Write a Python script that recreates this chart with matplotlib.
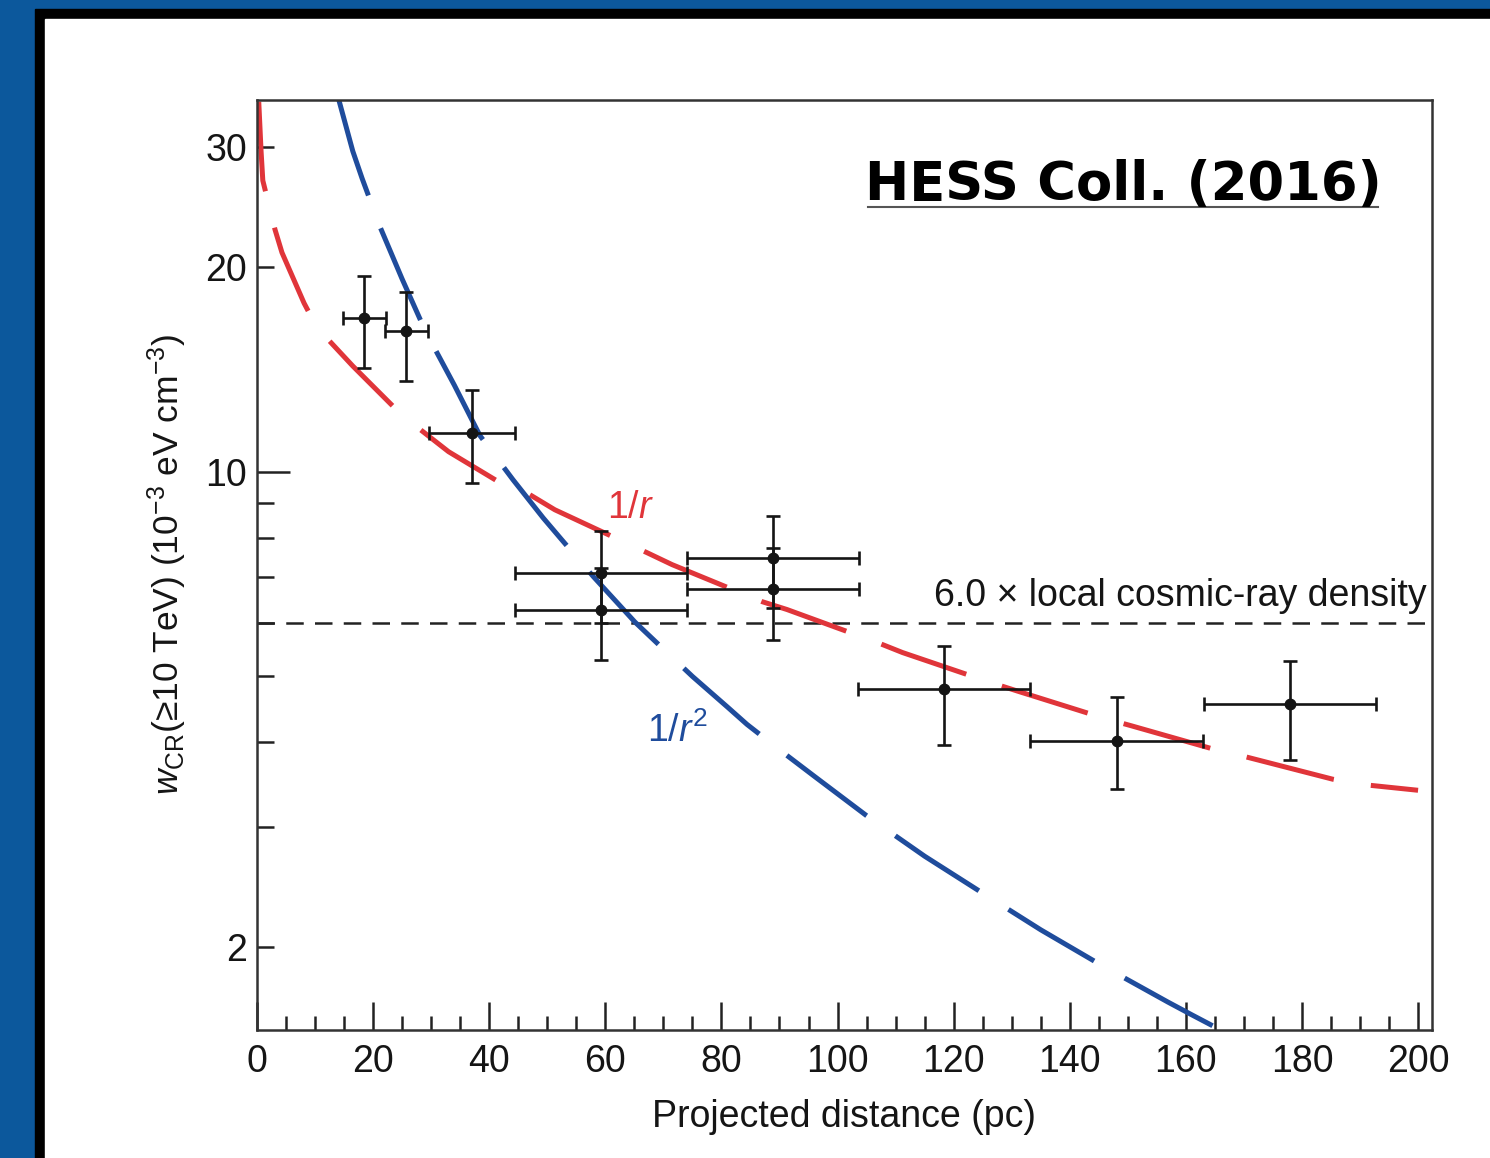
import matplotlib.pyplot as plt
import numpy as np
from matplotlib.patches import Rectangle

plt.rcParams['font.family'] = ['Liberation Sans', 'DejaVu Sans']
plt.rcParams['mathtext.fontset'] = 'custom'
plt.rcParams['mathtext.rm'] = 'Liberation Sans'
plt.rcParams['mathtext.it'] = 'Liberation Sans:italic'

# measured CR energy density in annuli around Sgr A*
dist = [18.4, 25.7, 37.0, 59.3, 59.3, 88.9, 88.9, 118.4, 148.1, 178.0]
dist_lo = [14.8, 22.0, 29.6, 44.4, 44.4, 74.1, 74.1, 103.6, 133.2, 163.1]
dist_hi = [22.2, 29.5, 44.4, 74.1, 74.1, 103.7, 103.7, 133.2, 163.0, 192.8]
w_cr = [16.8, 16.1, 11.4, 7.10, 6.27, 7.47, 6.73, 4.79, 4.02, 4.56]
w_lo = [14.2, 13.6, 9.63, 6.00, 5.29, 6.31, 5.66, 3.97, 3.41, 3.77]
w_hi = [19.4, 18.4, 13.2, 8.19, 7.22, 8.61, 7.73, 5.55, 4.66, 5.26]

# 1/r profile (projected)
r1_x = [0.3, 0.7, 1.0, 3.1, 4.3, 8.1, 10.3, 16.5, 25, 33, 41.9, 47, 51.3, 67.2,
        71.5, 87, 91.3, 106.8, 111.2, 126.3, 130.9, 145.9, 150.6, 165.6,
        170.2, 185.3, 190, 200]
r1_y = [35.0, 29.6, 26.8, 22.7, 21.0, 17.7, 16.3, 14.3, 12.1, 10.7, 9.63, 9.25,
        8.79, 7.60, 7.30, 6.44, 6.27, 5.61, 5.42, 4.90, 4.76, 4.34, 4.23, 3.89,
        3.81, 3.53, 3.47, 3.40]

# 1/r^2 profile (projected)
r2_x = [14.1, 16.5, 18.1, 21.2, 25, 29, 34, 38.4, 44.1, 49.3, 52.5, 58, 65.1,
        68.6, 75, 81, 84.4, 90, 96.1, 105, 115, 125, 135, 145, 156.9, 161, 166]
r2_y = [35.2, 29.6, 27.0, 22.9, 19.2, 16.1, 13.4, 11.3, 9.73, 8.55, 7.94, 7.0,
        6.01, 5.63, 5.0, 4.51, 4.25, 3.9, 3.56, 3.12, 2.72, 2.40, 2.12, 1.89,
        1.66, 1.59, 1.51]

local_level = 6.0

fig = plt.figure(figsize=(14.9, 11.58), dpi=100, facecolor='#0c589c')
fig.add_artist(Rectangle((35 / 1490, -0.1), 2, 1.1 - 9 / 1158,
                         transform=fig.transFigure, color='black', zorder=-2))
fig.add_artist(Rectangle((45 / 1490, -0.1), 2, 1.1 - 19 / 1158,
                         transform=fig.transFigure, color='white', zorder=-1))

ax = fig.add_axes([257 / 1490, 1 - 1030 / 1158, 1175 / 1490, 930 / 1158])
ax.set_yscale('log')
ax.set_xlim(0, 202.4)
ax.set_ylim(1.51, 35.2)

red = '#e0353a'
blue = '#1f4c9c'
ax.plot(r1_x, r1_y, color=red, lw=3.6, dashes=(18, 7.5), zorder=2)
ax.plot(r2_x, r2_y, color=blue, lw=3.6, dashes=(20, 7), zorder=2)
ax.axhline(local_level, color='#222222', lw=1.8, dashes=(7, 4.5), zorder=1)

xerr = [np.array(dist) - np.array(dist_lo), np.array(dist_hi) - np.array(dist)]
yerr = [np.array(w_cr) - np.array(w_lo), np.array(w_hi) - np.array(w_cr)]
ax.errorbar(dist, w_cr, xerr=xerr, yerr=yerr, fmt='o', color='#151515',
            ms=7.5, elinewidth=1.9, capsize=5, capthick=1.9, zorder=3)

ax.text(64.4, 8.85, '1/$r$', color=red, fontsize=27, ha='center', va='center')
ax.text(72.4, 4.16, '1/$r^2$', color=blue, fontsize=27, ha='center', va='center')
ax.text(201.5, 6.35, '6.0 × local cosmic-ray density', fontsize=27,
        ha='right', va='baseline', color='#151515')

# reference tag in the corner
ax.text(0.737, 0.893, 'HESS Coll. (2016)', transform=ax.transAxes,
        fontsize=38, fontweight='bold', family='DejaVu Sans',
        ha='center', va='baseline', color='black')
ax.plot([0.52, 0.954], [0.885, 0.885], transform=ax.transAxes,
        color='#555555', lw=1.5)

# ticks
ax.set_xticks(np.arange(0, 201, 20))
ax.set_xticks(np.arange(0, 201, 5), minor=True)
ax.set_yticks([2, 10, 20, 30])
ax.set_yticklabels(['2', '10', '20', '30'])
ax.set_yticks([3, 4, 5, 6, 7, 8, 9], minor=True)
ax.yaxis.set_minor_formatter(plt.NullFormatter())
ax.tick_params(axis='both', which='both', direction='in', top=False,
               right=False, labelsize=27, width=1.8, colors='#222222',
               labelcolor='#151515')
ax.tick_params(axis='x', which='major', length=20, pad=10)
ax.tick_params(axis='x', which='minor', length=10)
ax.tick_params(axis='y', which='major', length=12, pad=7)
ax.tick_params(axis='y', which='minor', length=12)
ax.yaxis.get_major_ticks()[1].tick1line.set_markersize(24)

for side in ax.spines.values():
    side.set_linewidth(1.8)
    side.set_color('#333333')

ax.set_xlabel('Projected distance (pc)', fontsize=27, labelpad=14,
              color='#151515')
ax.set_ylabel(r'$w_{\mathrm{CR}}$(≥10 TeV) (10$^{-3}$ eV cm$^{-3}$)',
              fontsize=25.5, labelpad=12, color='#151515')

fig.savefig('out.png', dpi=100, facecolor=fig.get_facecolor())
